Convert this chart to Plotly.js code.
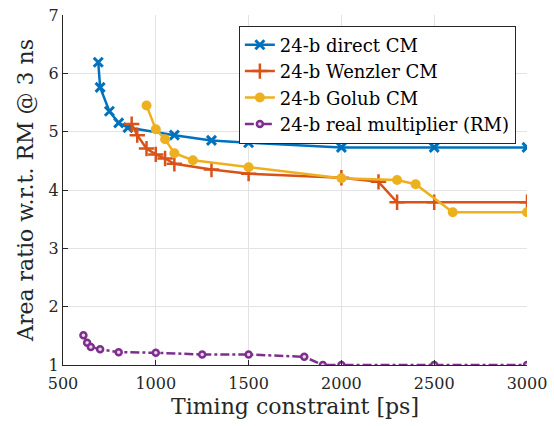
<!DOCTYPE html>
<html>
<head>
<meta charset="utf-8">
<script src="https://cdn.plot.ly/plotly-3.0.1.min.js"></script>
<style>html,body{margin:0;padding:0;background:#fff;}#chart{width:554px;height:426px;}</style>
</head>
<body>
<div id="chart"></div>
<script>
// Data
const directX = [690, 700, 750, 800, 850, 1100, 1300, 1500, 2000, 2500, 3000];
const directY = [6.19, 5.76, 5.35, 5.15, 5.07, 4.94, 4.85, 4.81, 4.73, 4.73, 4.73];

const wenzlerX = [870, 900, 950, 1000, 1050, 1100, 1300, 1500, 2000, 2200, 2300, 2500, 3000];
const wenzlerY = [5.13, 4.94, 4.71, 4.61, 4.54, 4.45, 4.35, 4.28, 4.21, 4.14, 3.79, 3.79, 3.79];

const golubX = [950, 1000, 1050, 1100, 1200, 1500, 2000, 2300, 2400, 2600, 3000];
const golubY = [5.45, 5.04, 4.87, 4.63, 4.51, 4.39, 4.20, 4.17, 4.10, 3.62, 3.62];

const realX = [610, 630, 650, 700, 800, 1000, 1250, 1500, 1800, 1900, 2000, 2500, 3000];
const realY = [1.51, 1.38, 1.31, 1.27, 1.22, 1.21, 1.18, 1.18, 1.14, 1.0, 1.0, 1.0, 1.0];

const seriesNames = ['24-b direct CM', '24-b Wenzler CM', '24-b Golub CM', '24-b real multiplier (RM)'];
const xTicks = [500, 1000, 1500, 2000, 2500, 3000];
const yTicks = [1, 2, 3, 4, 5, 6, 7];

const serif = 'DejaVu Serif';
const axisCol = '#262626';

const traces = [
  {x: directX, y: directY, name: seriesNames[0], mode: 'lines+markers',
   line: {color: '#0072BD', width: 2.5},
   marker: {symbol: 'x-thin-open', size: 9, line: {color: '#0072BD', width: 3}}},
  {x: wenzlerX, y: wenzlerY, name: seriesNames[1], mode: 'lines+markers',
   line: {color: '#D95319', width: 2.5},
   marker: {symbol: 'cross-thin-open', size: 11, line: {color: '#D95319', width: 2.5}}},
  {x: golubX, y: golubY, name: seriesNames[2], mode: 'lines+markers',
   line: {color: '#EDB120', width: 2.5},
   marker: {symbol: 'circle', size: 10, color: '#EDB120'}},
  {x: realX, y: realY, name: seriesNames[3], mode: 'lines+markers',
   line: {color: '#7E2F8E', width: 2.5, dash: 'dashdot'},
   marker: {symbol: 'circle', size: 6, color: '#e6d6ea', line: {color: '#7E2F8E', width: 2.5}}}
];

const layout = {
  width: 554, height: 426,
  margin: {l: 63, r: 27, t: 15, b: 61},
  paper_bgcolor: '#ffffff', plot_bgcolor: '#ffffff',
  font: {family: serif, color: axisCol, size: 16},
  showlegend: true,
  legend: {
    x: 0.976, y: 0.97, xanchor: 'right', yanchor: 'top',
    bgcolor: '#ffffff', bordercolor: axisCol, borderwidth: 1,
    font: {family: serif, size: 18, color: '#000000'},
    tracegroupgap: 0
  },
  xaxis: {
    range: [500, 3000], tickvals: xTicks, ticktext: xTicks.map(String),
    showgrid: true, gridcolor: '#e3e3e3', gridwidth: 1,
    showline: true, linecolor: axisCol, linewidth: 1,
    ticks: 'inside', ticklen: 5, tickcolor: axisCol,
    zeroline: false, mirror: false, ticklabelstandoff: 4,
    tickfont: {family: serif, size: 16, color: axisCol},
    title: {text: 'Timing constraint [ps]', font: {family: serif, size: 22, color: axisCol}, standoff: 6}
  },
  yaxis: {
    range: [1, 7], tickvals: yTicks, ticktext: yTicks.map(String),
    showgrid: true, gridcolor: '#e3e3e3', gridwidth: 1,
    showline: true, linecolor: axisCol, linewidth: 1,
    ticks: 'inside', ticklen: 5, tickcolor: axisCol,
    zeroline: false, mirror: false,
    tickfont: {family: serif, size: 16, color: axisCol},
    title: {text: 'Area ratio w.r.t. RM @ 3 ns', font: {family: serif, size: 22, color: axisCol}, standoff: 8}
  }
};

Plotly.newPlot('chart', traces, layout, {displayModeBar: false, staticPlot: true});
</script>
</body>
</html>
